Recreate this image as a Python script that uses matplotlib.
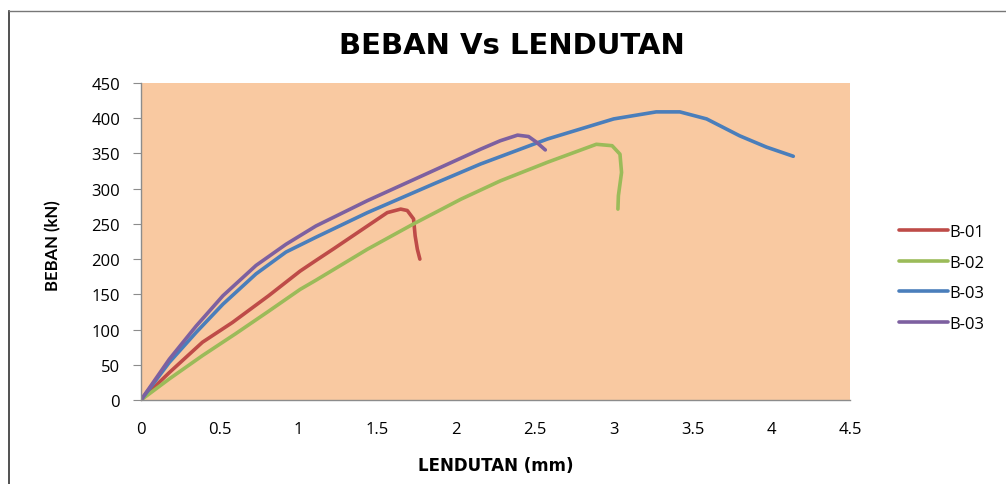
import matplotlib.pyplot as plt
from matplotlib.lines import Line2D

# values (deflection mm, load kN)
b01_x = [0, 0.18, 0.39, 0.58, 0.81, 1.01, 1.11, 1.225, 1.437, 1.563, 1.648, 1.69, 1.73, 1.74, 1.754, 1.77]
b01_y = [0, 39, 82, 110, 148, 183, 198, 215, 247, 266, 271, 269, 257, 233, 214, 200]

b02_x = [0, 0.18, 0.39, 0.60, 0.81, 1.01, 1.11, 1.437, 1.73, 2.03, 2.28, 2.58, 2.89, 2.99, 3.04, 3.05, 3.03, 3.027]
b02_y = [0, 30, 63, 94, 126, 157, 170, 214, 250, 285, 311, 337.5, 363, 361, 349, 323, 290, 271]

b03_x = [0, 0.18, 0.35, 0.52, 0.73, 0.92, 1.11, 1.437, 1.86, 2.155, 2.58, 3.0, 3.27, 3.42,
         3.59, 3.80, 3.97, 4.14]
b03_y = [0, 53.5, 96, 136, 179, 210, 231, 266, 307, 335, 370.5, 399, 409, 409,
         399, 375, 359, 346]

b04_x = [0, 0.18, 0.35, 0.52, 0.73, 0.92, 1.11, 1.437, 1.86, 2.155, 2.28, 2.39, 2.46, 2.51, 2.566]
b04_y = [0, 58, 105, 148, 191, 221, 247, 283, 326, 356, 368, 376, 374, 366, 355]

series = [
    ('B-01', b01_x, b01_y, '#BE4B48'),
    ('B-02', b02_x, b02_y, '#9BBB59'),
    ('B-03', b03_x, b03_y, '#4A7EBB'),
    ('B-03', b04_x, b04_y, '#7D60A0'),
]

x_ticks = [0, 0.5, 1, 1.5, 2, 2.5, 3, 3.5, 4, 4.5]
x_labels = ['0', '0.5', '1', '1.5', '2', '2.5', '3', '3.5', '4', '4.5']
y_ticks = [0, 50, 100, 150, 200, 250, 300, 350, 400, 450]

plt.rcParams['font.family'] = ['Open Sans', 'DejaVu Sans']

fig = plt.figure(figsize=(10.06, 4.85), dpi=100)
ax = fig.add_axes([141 / 1006, 84 / 485, 709 / 1006, 317 / 485])
ax.set_facecolor('#F9C9A1')

for name, xs, ys, col in series:
    ax.plot(xs, ys, color=col, lw=2.6, solid_capstyle='round',
            solid_joinstyle='round', label=name)

ax.set_xlim(0, 4.5)
ax.set_ylim(0, 450)
ax.set_xticks(x_ticks)
ax.set_xticklabels(x_labels)
ax.set_yticks(y_ticks)

for s in ['top', 'right']:
    ax.spines[s].set_visible(False)
for s in ['left', 'bottom']:
    ax.spines[s].set_color('#8C8C8C')
    ax.spines[s].set_linewidth(1)

ax.tick_params(axis='y', length=6, color='#8C8C8C', labelsize=12, pad=9)
ax.tick_params(axis='x', length=0, labelsize=12, pad=15)

fig.text(512 / 1006, 1 - 46 / 485, 'BEBAN Vs LENDUTAN', fontsize=21, fontweight='bold',
         family='DejaVu Sans', ha='center', va='center')
ax.set_xlabel('LENDUTAN (mm)', fontsize=12, fontweight='bold', family='DejaVu Sans')
ax.xaxis.set_label_coords(0.501, -0.178)
ax.set_ylabel('BEBAN (kN)', fontsize=12, fontweight='bold', family='Lato')
ax.yaxis.set_label_coords(-0.112, 0.489)

ax.legend(loc='center left', bbox_to_anchor=(1.048, 0.385), frameon=False,
          fontsize=12, handlelength=2.95, labelspacing=0.88, handletextpad=0.05)

# outer chart frame (left and top edges visible)
fig.add_artist(Line2D([9 / 1006, 9 / 1006], [0, 1 - 12 / 485], color='#333333', lw=1.2,
                      transform=fig.transFigure))
fig.add_artist(Line2D([9 / 1006, 1], [1 - 12 / 485, 1 - 12 / 485], color='#777777', lw=1,
                      transform=fig.transFigure))

fig.savefig('out.png', dpi=100)
